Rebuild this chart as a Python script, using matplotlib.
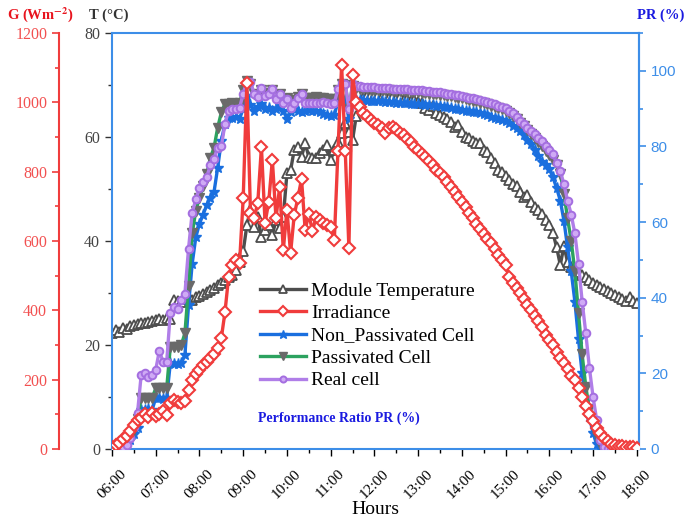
import matplotlib
matplotlib.use("Agg")
import matplotlib.pyplot as plt
import numpy as np
from matplotlib.ticker import MultipleLocator

# 5-minute samples from 06:00 to 18:00 (one row = one hour)
minutes = np.arange(0, 12 * 60 + 1, 5)
hours = 6 + minutes / 60.0
hour_labels = ["%02d:00" % h for h in range(6, 19)]

# Module temperature (degC)
module_temp = [
    22.3, 22.8, 22.5, 23.2, 23.0, 23.6, 23.8, 24.0, 24.3, 24.2, 24.5, 24.6,
    24.8, 25.0, 24.9, 25.2, 25.0, 28.7, 28.5, 28.2, 28.8, 29.0, 28.6, 29.2,
    29.5, 29.8, 30.2, 30.5, 31.0, 31.5, 32.0, 32.5, 33.0, 33.5, 34.5, 36.0,
    38.0, 43.0, 46.0, 42.7, 44.6, 40.8, 42.1, 43.0, 41.2, 44.0, 42.5, 44.6,
    53.0, 53.6, 57.5, 58.1, 56.2, 58.8, 56.2, 56.0, 55.9, 56.9, 57.5, 58.5,
    55.6, 57.5, 59.0, 60.8, 62.7, 61.0, 59.4, 64.0, 66.5, 67.5, 67.8, 68.0,
    67.8, 68.0, 67.6, 67.9, 67.5, 67.8, 67.4, 67.6, 67.2, 67.4, 67.0, 67.2,
    66.8, 66.5, 65.5, 65.2, 66.0, 64.6, 64.2, 63.9, 63.5, 62.8, 62.0, 62.3,
    61.0, 60.0, 59.8, 59.2, 58.8, 58.9, 57.5, 57.1, 56.0, 55.0, 53.6, 53.2,
    52.5, 51.7, 51.0, 50.5, 49.5, 48.5, 48.8, 47.5, 46.5, 46.0, 45.2, 44.0,
    43.0, 41.5, 38.8, 35.4, 39.0, 36.0, 35.0, 34.5, 34.0, 33.5, 33.0, 32.5,
    32.0, 31.6, 31.2, 30.8, 30.4, 30.0, 29.6, 29.2, 28.8, 28.4, 29.2, 28.4,
    28.0,
]

# Irradiance (W/m2)
irradiance = [
    6, 12, 18, 28, 38, 52, 70, 84, 88, 100, 92, 104,
    95, 102, 110, 98, 133, 141, 135, 132, 138, 170, 200, 215,
    228, 242, 252, 262, 275, 290, 320, 395, 497, 530, 545, 537,
    723, 1056, 680, 666, 710, 871, 652, 713, 834, 665, 756, 574,
    690, 565, 675, 724, 779, 632, 678, 629, 669, 660, 652, 646,
    640, 603, 860, 1108, 860, 580, 1079, 1000, 987, 970, 960, 950,
    940, 935, 925, 912, 925, 929, 922, 912, 905, 895, 885, 871,
    862, 852, 842, 830, 818, 805, 795, 785, 770, 756, 742, 727,
    712, 698, 682, 665, 650, 635, 620, 607, 595, 578, 560, 545,
    530, 497, 480, 465, 450, 432, 415, 401, 385, 368, 352, 330,
    315, 300, 280, 262, 248, 230, 212, 199, 175, 150, 125, 100,
    80, 62, 45, 32, 22, 15, 12, 10, 10, 6, 5, 5,
    4,
]

# Performance ratio PR (%)
pr_non_passivated = [
    0, 0, 0.5, 1, 1.5, 2.4, 4, 5.5, 10.3, 10.3, 10.5, 10.3,
    13.5, 13.5, 13.2, 13.5, 22.7, 22.5, 22.5, 22.7, 24.8, 38, 49, 56,
    59.6, 62, 64.5, 66.5, 68, 74.4, 81.5, 86, 87.5, 87.5, 87.8, 87.3,
    90, 93.4, 91, 89.4, 90.5, 91.3, 90, 90.3, 89.4, 89.8, 90.8, 89.5,
    87.3, 89, 90, 89.5, 89, 89.4, 89.6, 89.4, 89.4, 89, 88.6, 88.4,
    88, 88.2, 92, 92.5, 92.5, 87.3, 92, 92.3, 92.2, 92.2, 92, 92.1,
    92, 91.9, 91.9, 91.8, 91.7, 91.7, 91.6, 91.5, 91.5, 91.4, 91.3, 91.3,
    91.2, 91.1, 91, 91, 90.9, 90.8, 90.7, 90.5, 90.4, 90.2, 90, 89.9,
    89.7, 89.5, 89.4, 89.2, 89, 88.8, 88.5, 88.2, 87.9, 87.6, 87.3, 87,
    86.7, 86.2, 85.5, 84.8, 84, 83, 81.8, 80.6, 79, 77.5, 76, 75,
    74, 71.8, 69, 65.7, 60.4, 53.3, 47, 39, 29, 20, 13, 8.4,
    4.2, 1.2, 0.3, 0, 0, 0, 0, 0, 0, 0, 0, 0,
    0,
]

pr_passivated = [
    0, 0, 0, 0.5, 1.5, 3, 5.5, 8, 13.5, 13.5, 13.5, 13.5,
    16, 16, 16, 16, 27, 27, 27, 27.5, 30.6, 43, 57, 63,
    66.5, 69.5, 72.8, 77, 79.7, 85, 89, 91.3, 91.3, 91.5, 91.3, 91.5,
    95, 97.4, 96.5, 94, 93.5, 95, 93.8, 94.2, 94.8, 93, 93.8, 92.5,
    92.8, 91.5, 92.3, 93.2, 93.8, 92.8, 92.8, 92.9, 93, 92.9, 92.8, 92.6,
    92.5, 92.6, 95, 96.5, 96.3, 90, 96, 95.5, 95.3, 95.2, 95.1, 95,
    95, 94.9, 94.9, 94.8, 94.8, 94.7, 94.7, 94.6, 94.6, 94.5, 94.4, 94.4,
    94.3, 94.2, 94.1, 94, 93.9, 93.8, 93.7, 93.6, 93.4, 93.3, 93.1, 92.9,
    92.7, 92.5, 92.3, 92.1, 91.9, 91.6, 91.4, 91.1, 90.8, 90.5, 90.2, 89.9,
    89.5, 88.8, 88, 87.2, 86.3, 85.4, 84.4, 83.4, 82.3, 81.2, 80, 78.8,
    77.8, 76.5, 75, 72.8, 67.5, 61, 55, 47, 36, 25, 16.5, 10.5,
    6.5, 3.5, 1.2, 0.3, 0, 0, 0, 0, 0, 0, 0, 0,
    0,
]

pr_real = [
    0, 0, 0, 0.5, 1, 3, 5.8, 9.5, 19.5, 20, 19, 19.5,
    21, 26, 23, 23, 36, 37.5, 37, 39.3, 41, 53, 62.5, 66,
    69, 70.5, 72, 75, 76.8, 79.7, 80, 86, 89.5, 89.8, 90, 90.2,
    94, 97, 97, 94, 93, 95.5, 93.4, 94, 95.2, 92.6, 94, 91.6,
    92.6, 90.2, 91.6, 92.9, 94, 91.6, 91.6, 91.6, 91.6, 91.6, 91.8, 91.4,
    91.3, 91.5, 95.2, 96.8, 96.5, 90, 96.5, 96, 95.9, 95.8, 95.7, 95.6,
    95.6, 95.5, 95.5, 95.4, 95.4, 95.3, 95.3, 95.2, 95.2, 95.1, 95, 95,
    94.9, 94.8, 94.7, 94.6, 94.5, 94.4, 94.3, 94.2, 94, 93.9, 93.7, 93.5,
    93.3, 93.1, 92.9, 92.7, 92.5, 92.2, 92, 91.7, 91.4, 91.1, 90.8, 90.5,
    90.1, 89.5, 88.8, 87.8, 86.8, 85.9, 85, 84, 83.2, 82.3, 81.5, 80,
    79, 78, 75.5, 73.6, 70, 65.7, 62, 57, 49, 39, 30.6, 21.4,
    13.7, 7.6, 2.4, 0.5, 0, 0, 0, 0, 0, 0, 0, 0,
    0,
]

plt.rcParams["font.family"] = ["Liberation Serif", "DejaVu Serif"]
plt.rcParams["mathtext.fontset"] = "stix"

BLUE_SPINE = "#3d8ee8"
RED = "#f03c3c"
GREY = "#4d4d4d"

fig = plt.figure(figsize=(7.0, 5.18), dpi=100)
ax = fig.add_axes([112 / 700, 69 / 518, 527 / 700, 416 / 518])
ax_pr = ax.twinx()
ax_g = ax.twinx()

# Module temperature on the T axis
l_t, = ax.plot(hours, module_temp, color=GREY, lw=2.4, marker="^", ms=7,
               mfc="white", mec=GREY, mew=1.3, label="Module Temperature")

# PR curves on the right axis
l_np, = ax_pr.plot(hours, pr_non_passivated, color="#1a6fdf", lw=2.4,
                   marker="*", ms=8, mfc="#1a6fdf", mec="#1a6fdf",
                   label="Non_Passivated Cell")
l_p, = ax_pr.plot(hours, pr_passivated, color="#2ca25f", lw=2.4,
                  marker="v", ms=7, mfc="#6a6a6a", mec="#6a6a6a",
                  label="Passivated Cell")
l_r, = ax_pr.plot(hours, pr_real, color="#b07ee8", lw=2.4, marker="o",
                  ms=5.5, mfc="#cfaaf5", mec="#a46ee0", mew=1.4,
                  label="Real cell")

# Irradiance on the outer left axis
l_g, = ax_g.plot(hours, irradiance, color=RED, lw=2.4, marker="D", ms=6,
                 mfc="white", mec=RED, mew=1.5, label="Irradiance")

# x axis
ax.set_xlim(6, 18.05)
ax.set_xticks(range(6, 19))
ax.set_xticklabels(hour_labels, rotation=45, ha="center", fontsize=11)
ax.xaxis.set_minor_locator(MultipleLocator(0.5))
ax.tick_params(axis="x", which="major", direction="out", length=5, width=1,
               pad=8, colors="black")
ax.tick_params(axis="x", which="minor", direction="out", length=3, width=1)
fig.text(375 / 700, 1 - 509 / 518, "Hours", fontsize=14, ha="center",
         va="center")

# T axis (inner left)
ax.set_ylim(0, 80)
ax.yaxis.set_major_locator(MultipleLocator(20))
ax.yaxis.set_minor_locator(MultipleLocator(10))
ax.tick_params(axis="y", which="major", direction="out", length=5, width=1,
               labelsize=11.5, colors="#333333", labelcolor="#444444")
ax.tick_params(axis="y", which="minor", direction="out", length=3, width=1,
               colors="#333333")
for s in ax.spines.values():
    s.set_color(BLUE_SPINE)
    s.set_linewidth(1.5)

# PR axis (right)
ax_pr.set_ylim(0, 110)
ax_pr.yaxis.set_major_locator(MultipleLocator(20))
ax_pr.yaxis.set_minor_locator(MultipleLocator(10))
ax_pr.tick_params(axis="y", which="major", direction="out", length=5,
                  width=1.2, colors=BLUE_SPINE, labelsize=11)
ax_pr.tick_params(axis="y", which="minor", direction="out", length=3,
                  width=1.2, colors=BLUE_SPINE)
for lbl in ax_pr.get_yticklabels():
    lbl.set_fontfamily("Liberation Sans")
ax_pr.spines["right"].set_color(BLUE_SPINE)
ax_pr.spines["right"].set_linewidth(1.5)
for k in ("left", "top", "bottom"):
    ax_pr.spines[k].set_visible(False)

# G axis (outer left)
ax_g.set_ylim(0, 1200)
ax_g.yaxis.set_ticks_position("left")
ax_g.yaxis.set_label_position("left")
ax_g.spines["left"].set_position(("outward", 53 * 72 / 100))
ax_g.spines["left"].set_visible(True)
ax_g.spines["left"].set_color(RED)
ax_g.spines["left"].set_linewidth(1.5)
for k in ("right", "top", "bottom"):
    ax_g.spines[k].set_visible(False)
ax_g.yaxis.set_major_locator(MultipleLocator(200))
ax_g.yaxis.set_minor_locator(MultipleLocator(100))
ax_g.tick_params(axis="y", which="major", direction="out", length=5,
                 width=1.2, colors=RED, labelcolor="#f25050", labelsize=11.5)
ax_g.tick_params(axis="y", which="minor", direction="out", length=3,
                 width=1.2, colors=RED)

# axis titles above the spines
fig.text(40 / 700, 1 - 15 / 518, r"G (Wm$^{\mathbf{-2}}$)", color="#e8141e",
         fontsize=10.5, fontweight="bold", ha="center", va="center")
fig.text(109 / 700, 1 - 15 / 518, "T (°C)", color="#333333",
         fontsize=10.5, fontweight="bold", ha="center", va="center")
fig.text(661 / 700, 1 - 15 / 518, "PR (%)", color="#1a1ae0",
         fontsize=10.5, fontweight="bold", ha="center", va="center")

ax_g.text(0.43, 0.075, "Performance Ratio PR (%)", transform=ax_g.transAxes,
          color="#1a1ae0", fontsize=10, fontweight="bold", ha="center",
          va="center")

ax_g.legend([l_t, l_g, l_np, l_p, l_r],
            [l.get_label() for l in (l_t, l_g, l_np, l_p, l_r)],
            loc="upper left", bbox_to_anchor=(0.262, 0.425), frameon=False,
            fontsize=14, handlelength=2.4, handletextpad=0.25,
            labelspacing=0.25, borderpad=0, markerscale=0.8)

fig.savefig("out.png", dpi=100)
